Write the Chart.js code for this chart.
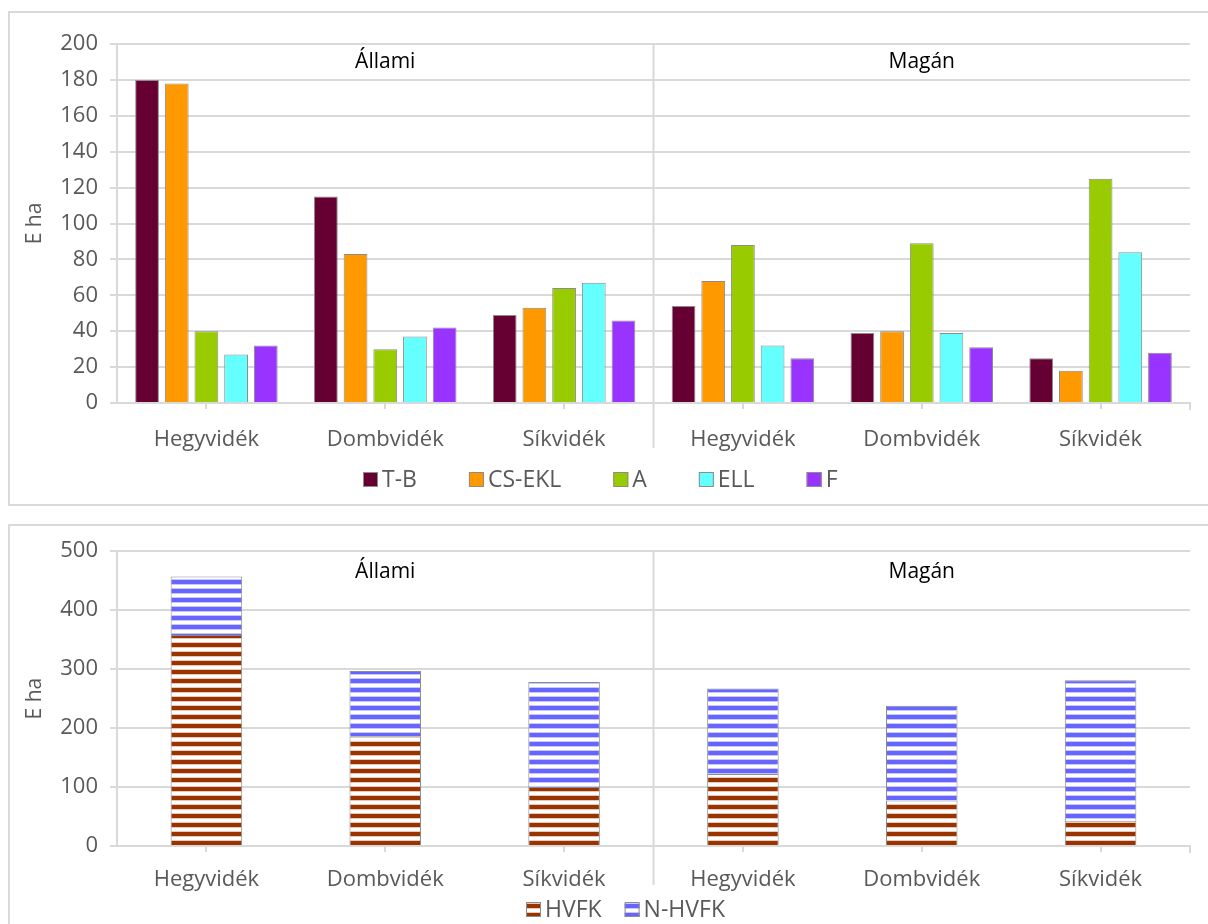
<!DOCTYPE html>
<html>
<head>
<meta charset="utf-8">
<script src="https://cdn.jsdelivr.net/npm/chart.js@4.4.1/dist/chart.umd.min.js"></script>
<style>
  body { margin: 0; background: #fff; width: 1208px; height: 924px; overflow: hidden; position: relative; }
  .box { position: absolute; border: 2px solid #d9d9d9; background: #fff; }
  #b1 { left: 8px; top: 11px; width: 1210px; height: 491px; }
  #b2 { left: 8px; top: 524px; width: 1210px; height: 420px; }
  .box canvas { position: absolute; left: 0; top: 0; }
</style>
</head>
<body>
<div class="box" id="b1"><canvas id="c1" width="1198" height="491"></canvas></div>
<div class="box" id="b2"><canvas id="c2" width="1198" height="398"></canvas></div>
<script>
// Két oszlopdiagram: fafajcsoportok (fent) és HVFK / N-HVFK (lent), Állami / Magán bontásban.
const categories = ['Hegyvidék', 'Dombvidék', 'Síkvidék', 'Hegyvidék', 'Dombvidék', 'Síkvidék'];
const groups = ['Állami', 'Magán'];

// felső diagram (E ha)
const tb    = [180, 115, 49, 54, 39, 25];
const csekl = [178, 83, 53, 68, 40, 18];
const aVals = [40, 30, 64, 88, 89, 125];
const ell   = [27, 37, 67, 32, 39, 84];
const fVals = [32, 42, 46, 25, 31, 28];
const topTicks = { max: 200, step: 20 };

// alsó diagram (E ha), halmozott
const hvfk  = [358, 186, 100, 122, 77, 43];
const nhvfk = [99, 111, 178, 145, 161, 238];
const bottomTicks = { max: 500, step: 100 };

const FONT = '"Open Sans", "Noto Sans", sans-serif';
const GREY_TXT = '#595959';
const GRID = '#d9d9d9';

// vízszintes csíkos minta (Excel "széles vízszintes")
function stripes(color, light) {
    const c = document.createElement('canvas');
    c.width = 8; c.height = 9;
    const g = c.getContext('2d');
    g.fillStyle = '#fff'; g.fillRect(0, 0, 8, 9);
    g.fillStyle = color; g.fillRect(0, 0, 8, 4);
    g.fillStyle = light; g.fillRect(0, 4, 8, 1); g.fillRect(0, 8, 8, 1);
    return g.createPattern(c, 'repeat');
}

// Állami / Magán elválasztó vonal + feliratok
const groupPlugin = {
    id: 'groups',
    beforeDatasetsDraw(chart, args, opts) {
        const { ctx, chartArea: a, scales: { x } } = chart;
        const mid = (x.getPixelForValue(2) + x.getPixelForValue(3)) / 2;
        ctx.save();
        ctx.strokeStyle = GRID; ctx.lineWidth = 2;
        ctx.beginPath();
        ctx.moveTo(mid, a.top); ctx.lineTo(mid, a.bottom + opts.drop);
        ctx.moveTo(a.right, a.bottom); ctx.lineTo(a.right, a.bottom + 7);
        ctx.stroke();
        ctx.fillStyle = '#000';
        ctx.font = '21px ' + FONT;
        ctx.textAlign = 'center'; ctx.textBaseline = 'alphabetic';
        groups.forEach((g, i) => ctx.fillText(g, x.getPixelForValue(1 + 3 * i), a.top + opts.baseline));
        ctx.restore();
    },
};

// egysoros jelmagyarázat, Excel-szerű szoros doboz–szöveg távolsággal
const rowLegend = {
    id: 'rowLegend',
    afterDraw(chart, args, o) {
        const ctx = chart.ctx;
        ctx.save();
        ctx.font = o.size + 'px ' + FONT;
        const items = chart.data.datasets.map((d) => ({ d, w: ctx.measureText(d.label).width }));
        const total = items.reduce((s, it) => s + o.box + o.gap + it.w, 0) + o.spacing * (items.length - 1);
        let x = Math.round((chart.width - total) / 2 + o.shift);
        items.forEach(({ d, w }) => {
            const top = Math.round(o.y - o.box / 2);
            ctx.fillStyle = d.backgroundColor;
            ctx.fillRect(x, top, o.box, o.box);
            ctx.strokeStyle = d.borderColor; ctx.lineWidth = 1;
            ctx.strokeRect(x + 0.5, top + 0.5, o.box - 1, o.box - 1);
            ctx.fillStyle = GREY_TXT; ctx.textBaseline = 'middle'; ctx.textAlign = 'left';
            ctx.fillText(d.label, x + o.box + o.gap, o.y + 1);
            x += o.box + o.gap + w + o.spacing;
        });
        ctx.restore();
    },
};

function scalesFor(t, stacked, xPad, xHeight) {
    return {
        x: {
            stacked,
            afterFit: (s) => { s.height = xHeight; },
            grid: { display: true, drawOnChartArea: false, offset: false, tickLength: 6, color: GRID, lineWidth: 2 },
            border: { color: GRID, width: 2 },
            ticks: { color: GREY_TXT, font: { family: FONT, size: 22 }, padding: xPad, maxRotation: 0, autoSkip: false },
        },
        y: {
            stacked, min: 0, max: t.max,
            afterFit: (s) => { s.width = 107; },
            grid: { color: GRID, lineWidth: 2, tickLength: 7 },
            border: { color: GRID, width: 2 },
            ticks: { stepSize: t.step, color: GREY_TXT, font: { family: FONT, size: 22 }, padding: 12 },
            title: { display: true, text: 'E ha', color: GREY_TXT, font: { family: FONT, size: 21 }, padding: { top: 12, bottom: 0 } },
        },
    };
}

const bar = (label, data, color) => ({
    label, data, backgroundColor: color, borderColor: '#8c8c8c', borderWidth: 1,
    categoryPercentage: 0.83, barPercentage: 0.8,
});

new Chart(document.getElementById('c1'), {
    type: 'bar',
    data: {
        labels: categories,
        datasets: [
            bar('T-B', tb, '#660033'),
            bar('CS-EKL', csekl, '#ff9900'),
            bar('A', aVals, '#99cc00'),
            bar('ELL', ell, '#66ffff'),
            bar('F', fVals, '#9933ff'),
        ],
    },
    options: {
        responsive: false, animation: false,
        layout: { padding: { top: 31, right: 18, left: 0, bottom: 45 } },
        scales: scalesFor(topTicks, false, 18, 56),
        plugins: {
            legend: { display: false }, tooltip: { enabled: false },
            groups: { drop: 45, baseline: 24 },
            rowLegend: { y: 466, size: 23, box: 15, gap: 4, spacing: 52, shift: -9 },
        },
    },
    plugins: [groupPlugin, rowLegend],
});

const stack = (label, data, pattern) => ({
    label, data, backgroundColor: pattern, borderColor: '#8c8c8c', borderWidth: 1,
    categoryPercentage: 0.8, barPercentage: 0.5,
});

new Chart(document.getElementById('c2'), {
    type: 'bar',
    data: {
        labels: categories,
        datasets: [
            stack('HVFK', hvfk, stripes('#993300', '#e8c8b8')),
            stack('N-HVFK', nhvfk, stripes('#6666ff', '#c8c8ff')),
        ],
    },
    options: {
        responsive: false, animation: false,
        layout: { padding: { top: 24, right: 18, left: 0, bottom: 28 } },
        scales: scalesFor(bottomTicks, true, 15, 50),
        plugins: {
            legend: { display: false }, tooltip: { enabled: false },
            groups: { drop: 39, baseline: 27 },
            rowLegend: { y: 383, size: 23, box: 15, gap: 4, spacing: 23, shift: 16 },
        },
    },
    plugins: [groupPlugin, rowLegend],
});
</script>
</body>
</html>
